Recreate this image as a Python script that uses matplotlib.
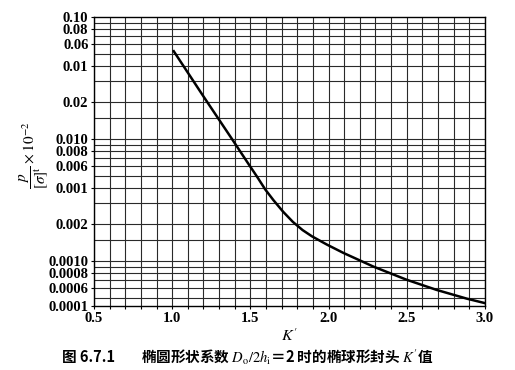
import matplotlib
matplotlib.use("Agg")
import matplotlib.pyplot as plt
import numpy as np

# curve: K' vs p/[sigma]^t
k_vals = [1.01, 1.20, 1.39, 1.44, 1.49, 1.544, 1.596, 1.648, 1.71, 1.772, 1.834,
          1.894, 1.989, 2.095, 2.287, 2.50, 2.692, 2.884, 3.00]
p_vals = [0.0525, 0.0224, 0.0097, 0.00776, 0.00621, 0.0049, 0.00386, 0.00316,
          0.00254, 0.0021, 0.0018, 0.0016, 0.00137, 0.00117, 0.000904, 0.000705,
          0.000582, 0.000494, 0.000454]

# y ticks (true log positions) with the labels as printed on the original
y_ticks = [0.1, 0.08, 0.06, 0.04, 0.02, 0.01, 0.008, 0.006, 0.004, 0.002,
           0.001, 0.0008, 0.0006, 0.00043]
y_labels = ["0.10", "0.08", "0.06", "0.01", "0.02", "0.010", "0.008", "0.006",
            "0.001", "0.002", "0.0010", "0.0008", "0.0006", "0.0001"]
# horizontal grid: 1, 1.5, 2..9 per decade
y_grid = [m * d for d in (0.0001, 0.001, 0.01) for m in (1, 1.5, 2, 3, 4, 5, 6, 7, 8, 9)] + [0.1]
x_ticks = [0.5, 1.0, 1.5, 2.0, 2.5, 3.0]
x_grid = np.round(np.arange(0.5, 3.01, 0.1), 2)

fig_no = "图 6.7.1"
caption = "椭圆形状系数 $D_\\mathrm{o}/2h_\\mathrm{i}$＝2 时的椭球形封头 $K'$值"

plt.rcParams["mathtext.fontset"] = "stix"
serif = "Liberation Serif"

fig = plt.figure(figsize=(5.15, 3.7), dpi=100)
ax = fig.add_axes([0.1825, 0.173, 0.759, 0.781])

ax.set_yscale("log")
ax.set_xlim(0.5, 3.0)
ax.set_ylim(0.00043, 0.1)

grid_kw = dict(color="#2a2a2a", lw=0.8, zorder=1)
for g in y_grid:
    if 0.00043 < g < 0.1:
        ax.axhline(g, **grid_kw)
for g in x_grid:
    ax.axvline(g, **grid_kw)

ax.plot(k_vals, p_vals, color="black", lw=1.8, zorder=3)

ax.set_yticks(y_ticks, labels=y_labels)
ax.minorticks_off()
ax.set_xticks(x_ticks, labels=[f"{v:.1f}" for v in x_ticks])
ax.set_xticks(x_grid, minor=True)
ax.tick_params(axis="both", which="both", length=2.5, width=0.8, direction="out",
               labelsize=10.5, pad=1.5)
for t in ax.get_xticklabels() + ax.get_yticklabels():
    t.set_fontfamily(serif)
    t.set_fontweight("bold")
for s in ax.spines.values():
    s.set_linewidth(1.0)

ax.set_xlabel("$K'$", fontsize=11.5, labelpad=2)

fig.text(0.066, 0.58, "$\\dfrac{p}{[\\sigma]^{\\mathrm{t}}}\\times10^{-2}$",
         rotation=90, ha="center", va="center", fontsize=11)

cjk = ["Noto Sans CJK SC", "DejaVu Sans"]
fig.text(62 / 515, 0.035, fig_no, family=cjk, fontsize=10.5, fontweight="bold",
         ha="left", va="center")
fig.text(141 / 515, 0.035, caption, family=cjk, fontsize=10.5, fontweight="bold",
         ha="left", va="center")

fig.savefig("out.png", dpi=100)
plt.close(fig)
